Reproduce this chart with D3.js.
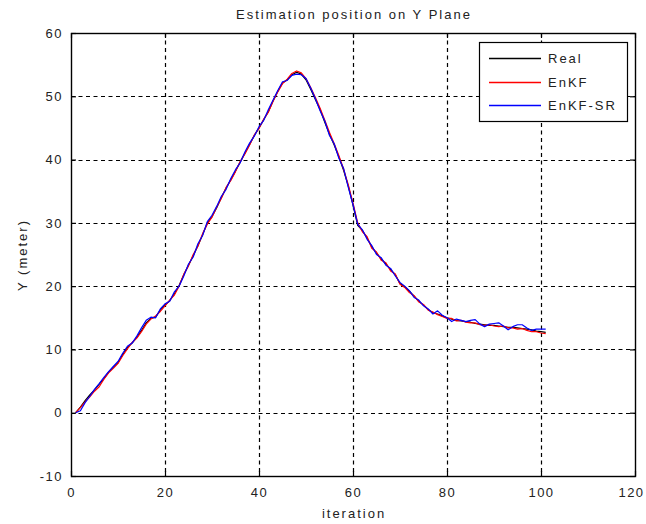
<!DOCTYPE html>
<html>
<head>
<meta charset="utf-8">
<script src="https://cdn.jsdelivr.net/npm/d3@7"></script>
<style>
  html, body { margin: 0; padding: 0; background: #fff; }
  svg { display: block; }
  text { font-family: "Liberation Sans", Arial, sans-serif; font-size: 13px; fill: #222; letter-spacing: 2px; }
</style>
</head>
<body>
<svg id="chart" width="646" height="524"></svg>
<script>
// Iteration index 1..101
const iterations = d3.range(1, 102);

const realY = [
  0, 0.9, 1.9, 2.8, 3.6, 4.5, 5.4, 6.4, 7.2, 7.9,
  9.2, 10.3, 11.0, 11.9, 13.0, 14.2, 14.9, 15.1, 16.2, 17.0,
  17.7, 18.8, 20.1, 21.8, 23.3, 24.8, 26.4, 28.1, 30.0, 31.0,
  32.4, 34.0, 35.5, 36.8, 38.2, 39.6, 41.0, 42.4, 43.8, 45.0,
  46.3, 47.6, 49.3, 50.8, 52.1, 52.6, 53.4, 53.8, 53.5, 52.6,
  51.1, 49.5, 47.9, 45.9, 44.0, 42.3, 40.4, 38.3, 35.8, 32.8,
  29.6, 28.8, 27.6, 26.2, 25.2, 24.3, 23.5, 22.6, 21.8, 20.4,
  19.9, 19.2, 18.4, 17.6, 17.0, 16.3, 15.8, 15.6, 15.3, 15.0,
  14.8, 14.6, 14.5, 14.4, 14.3, 14.1, 14.0, 13.9, 13.8, 13.8,
  13.7, 13.6, 13.5, 13.5, 13.4, 13.3, 13.2, 13.1, 12.9, 12.8,
  12.7
];

const enkfY = [
  0, 0.8, 1.7, 2.5, 3.4, 4.1, 5.3, 6.3, 7.0, 7.8,
  9.0, 10.1, 11.1, 11.8, 12.8, 14.0, 14.8, 15.3, 16.0, 16.9,
  17.8, 18.6, 20.0, 21.9, 23.2, 25.0, 26.3, 28.3, 29.8, 30.9,
  32.5, 33.9, 35.6, 36.7, 38.1, 39.7, 40.9, 42.3, 43.9, 44.9,
  46.4, 47.5, 49.2, 50.7, 52.0, 52.7, 53.6, 54.0, 53.7, 52.8,
  51.4, 49.8, 48.1, 46.2, 44.3, 42.5, 40.6, 38.5, 36.0, 33.1,
  30.0, 28.6, 27.8, 26.0, 25.4, 24.1, 23.7, 22.4, 21.9, 20.3,
  19.8, 19.0, 18.5, 17.5, 17.1, 16.2, 15.9, 15.5, 15.2, 14.9,
  14.9, 14.5, 14.6, 14.3, 14.2, 14.2, 13.9, 13.8, 13.9, 13.7,
  13.6, 13.7, 13.4, 13.4, 13.2, 13.3, 13.0, 12.8, 12.8, 12.6,
  12.5
];

const enkfSrY = [
  0, 0.3, 1.6, 2.6, 3.7, 4.6, 5.6, 6.5, 7.3, 8.1,
  9.4, 10.5, 11.0, 12.1, 13.4, 14.6, 15.1, 15.0, 16.4, 17.2,
  17.6, 19.1, 20.0, 21.6, 23.5, 24.6, 26.7, 28.0, 30.2, 31.2,
  32.6, 34.2, 35.3, 37.0, 38.4, 39.5, 41.2, 42.6, 43.7, 45.2,
  46.2, 47.9, 49.4, 50.9, 52.3, 52.5, 53.3, 53.5, 53.4, 52.8,
  51.3, 49.6, 47.7, 46.1, 43.8, 42.5, 40.2, 38.6, 35.6, 32.9,
  29.8, 28.9, 27.4, 26.4, 25.0, 24.5, 23.3, 22.8, 21.6, 20.6,
  20.0, 19.3, 18.2, 17.8, 16.9, 16.4, 15.6, 16.1, 15.4, 15.0,
  14.4, 14.8, 14.6, 14.4, 14.6, 14.7, 14.0, 13.6, 14.0, 14.1,
  14.2, 13.7, 13.1, 13.6, 13.9, 13.9, 13.4, 13.0, 13.2, 13.2,
  13.2
];

const seriesNames = ["Real", "EnKF", "EnKF-SR"];
const seriesColors = ["#000000", "#ff0000", "#0000ff"];
const xTicks = [0, 20, 40, 60, 80, 100, 120];
const yTicks = [-10, 0, 10, 20, 30, 40, 50, 60];

const titleText = "Estimation position on Y Plane";
const xLabel = "iteration";
const yLabel = "Y (meter)";

// Plot area edges
const plotLeft = 71, plotRight = 635, plotTop = 33, plotBottom = 476;

const svg = d3.select("#chart");

const x = d3.scaleLinear().domain([0, 120]).range([plotLeft, plotRight]);
const y = d3.scaleLinear().domain([-10, 60]).range([plotBottom, plotTop]);

// Dashed grid
const grid = svg.append("g").attr("stroke", "#000").attr("stroke-width", 1.2)
  .attr("stroke-dasharray", "4,3.5");
grid.selectAll("line.gx").data(xTicks.filter(d => d > 0 && d < 120)).join("line")
  .attr("class", "gx")
  .attr("x1", d => Math.round(x(d)) + 0.5).attr("x2", d => Math.round(x(d)) + 0.5)
  .attr("y1", plotTop).attr("y2", plotBottom);
grid.selectAll("line.gy").data(yTicks.filter(d => d > -10 && d < 60)).join("line")
  .attr("class", "gy")
  .attr("x1", plotLeft).attr("x2", plotRight)
  .attr("y1", d => Math.round(y(d)) + 0.5).attr("y2", d => Math.round(y(d)) + 0.5);

// Data lines
const allSeries = [realY, enkfY, enkfSrY].map((vals, k) => ({ name: seriesNames[k], color: seriesColors[k], vals }));
const line = d3.line().x((d, i) => x(iterations[i])).y(d => y(d));
svg.append("g").selectAll("path").data(allSeries).join("path")
  .attr("d", d => line(d.vals))
  .attr("fill", "none")
  .attr("stroke", d => d.color)
  .attr("stroke-width", 1.2)
  .attr("stroke-linejoin", "round");

// Axes with inward ticks on all four sides
const plainNum = d => String(d);
const axisB = d3.axisBottom(x).tickValues(xTicks).tickSize(-5).tickPadding(12).tickFormat(plainNum);
const axisT = d3.axisTop(x).tickValues(xTicks).tickSize(-5).tickFormat("");
const axisL = d3.axisLeft(y).tickValues(yTicks).tickSize(-5).tickPadding(8).tickFormat(plainNum);
const axisR = d3.axisRight(y).tickValues(yTicks).tickSize(-5).tickFormat("");

function styleAxis(g) {
  g.select(".domain").remove();
  g.selectAll(".tick line").attr("stroke", "#000").attr("stroke-width", 1.2);
  g.selectAll(".tick text").attr("fill", "#222").style("font-size", "13px").style("letter-spacing", "1.5px");
}
const gB = svg.append("g").attr("transform", `translate(0,${plotBottom})`).call(axisB).call(styleAxis);
// keep the last x label inside the page edge
gB.selectAll(".tick text").filter(d => d === 120).attr("dx", "-4");
svg.append("g").attr("transform", `translate(0,${plotTop})`).call(axisT).call(styleAxis);
svg.append("g").attr("transform", `translate(${plotLeft},0)`).call(axisL).call(styleAxis);
svg.append("g").attr("transform", `translate(${plotRight},0)`).call(axisR).call(styleAxis);

// Axes box
svg.append("rect")
  .attr("x", plotLeft + 0.5).attr("y", plotTop + 0.5)
  .attr("width", plotRight - plotLeft).attr("height", plotBottom - plotTop)
  .attr("fill", "none").attr("stroke", "#000").attr("stroke-width", 1.4);

// Title and axis labels
svg.append("text").attr("x", 354).attr("y", 19).attr("text-anchor", "middle").text(titleText);
svg.append("text").attr("x", 354).attr("y", 518).attr("text-anchor", "middle").text(xLabel);
svg.append("text").attr("transform", "translate(27,255) rotate(-90)")
  .attr("text-anchor", "middle").text(yLabel);

// Legend
const lg = svg.append("g").attr("class", "legend");
lg.append("rect").attr("x", 479.5).attr("y", 42.5).attr("width", 148).attr("height", 79)
  .attr("fill", "#fff").attr("stroke", "#000").attr("stroke-width", 1.2);
const rowY = [58.5, 82.5, 105.5];
allSeries.forEach((s, k) => {
  lg.append("path")
    .attr("d", `M489,${rowY[k]}H541`)
    .attr("fill", "none")
    .style("stroke", s.color)
    .style("stroke-width", "1.3px");
  lg.append("text").attr("x", 548).attr("y", rowY[k] + 4.5).text(s.name);
});
</script>
</body>
</html>
